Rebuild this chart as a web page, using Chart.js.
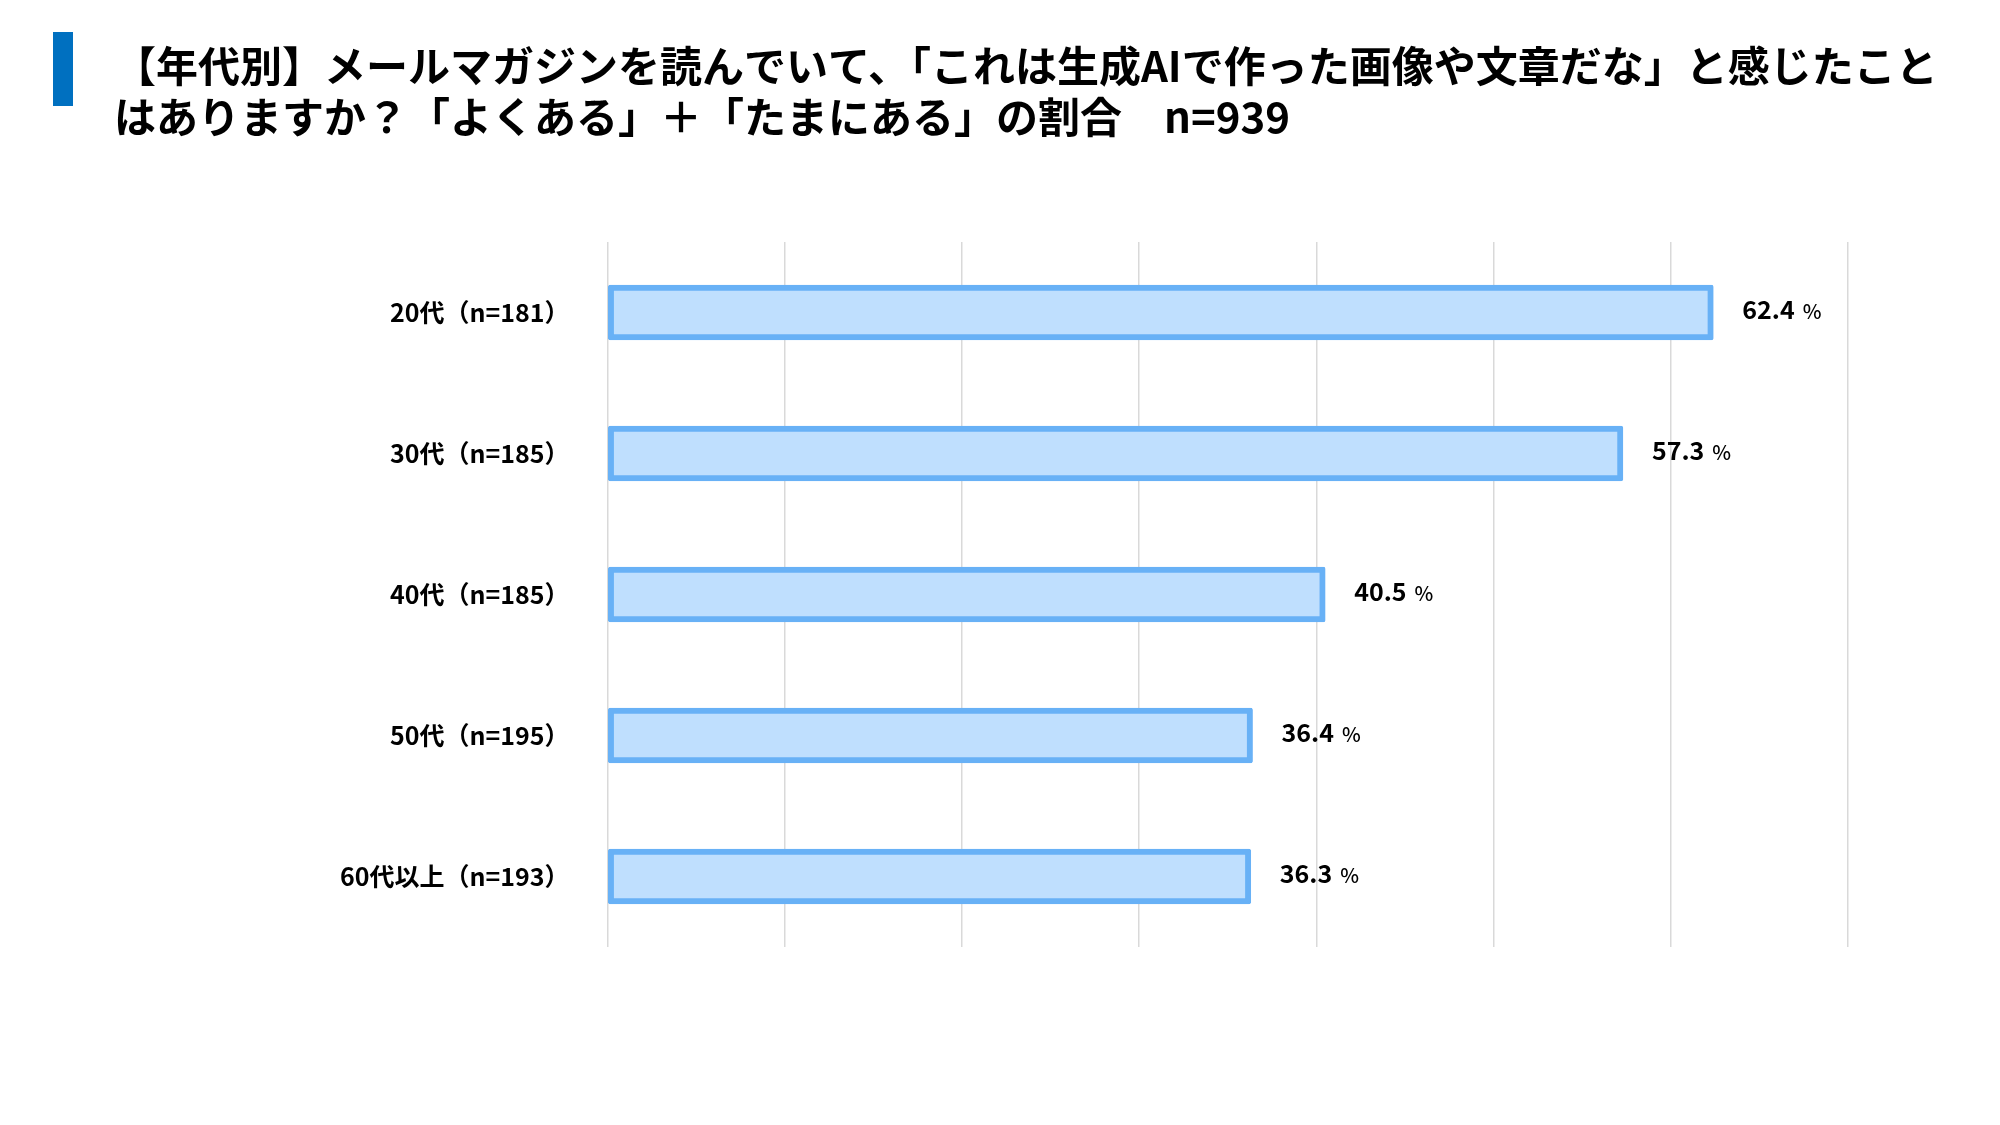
<!DOCTYPE html>
<html>
<head>
<meta charset="utf-8">
<script src="https://cdn.jsdelivr.net/npm/chart.js@4.4.1/dist/chart.umd.min.js"></script>
<style>
html,body{margin:0;padding:0;background:#fff;}
canvas{display:block;}
</style>
</head>
<body>
<canvas id="c" width="2000" height="1125"></canvas>
<script>
const titleLines = [
  "【年代別】メールマガジンを読んでいて、「これは生成AIで作った画像や文章だな」と感じたこと",
  "はありますか？「よくある」＋「たまにある」の割合　n=939"
];
const categories = ["20代（n=181）", "30代（n=185）", "40代（n=185）", "50代（n=195）", "60代以上（n=193）"];
const values = [62.4, 57.3, 40.5, 36.4, 36.3];
const unitLabel = "%";
const xTicks = [0, 10, 20, 30, 40, 50, 60, 70];

const FONT = "'Noto Sans CJK JP', 'Noto Sans', sans-serif";

const titlePlugin = {
  id: 'titleBlock',
  afterDraw(chart) {
    const ctx = chart.ctx;
    ctx.save();
    ctx.fillStyle = '#0070c0';
    ctx.fillRect(53, 32, 20, 74);
    ctx.fillStyle = '#000';
    ctx.font = "bold 42px " + FONT;
    ctx.textBaseline = 'middle';
    ctx.textAlign = 'left';
    ctx.fillText(titleLines[0], 114, 66);
    ctx.fillText(titleLines[1], 114, 117);
    ctx.restore();
  }
};

const valueLabels = {
  id: 'valueLabels',
  afterDatasetsDraw(chart) {
    const ctx = chart.ctx;
    const meta = chart.getDatasetMeta(0);
    ctx.save();
    ctx.fillStyle = '#000';
    ctx.textBaseline = 'middle';
    ctx.textAlign = 'left';
    meta.data.forEach((bar, i) => {
      const v = values[i].toFixed(1);
      const x = bar.x + 29;
      const y = bar.y - 3;
      ctx.font = "bold 25px " + FONT;
      ctx.fillText(v, x, y);
      const w = ctx.measureText(v).width;
      ctx.font = "500 20px " + FONT;
      ctx.fillText(unitLabel, x + w + 8, y + 2);
    });
    ctx.restore();
  }
};

new Chart(document.getElementById('c'), {
  type: 'bar',
  data: {
    labels: categories,
    datasets: [{
      data: values,
      backgroundColor: '#bfdffe',
      borderColor: '#68b1f6',
      borderWidth: 6,
      borderRadius: 2,
      borderSkipped: false,
      barThickness: 55
    }]
  },
  options: {
    indexAxis: 'y',
    responsive: false,
    devicePixelRatio: 1,
    animation: false,
    layout: { padding: { left: 0, right: 152, top: 242, bottom: 178 } },
    plugins: {
      legend: { display: false },
      title: { display: false },
      tooltip: { enabled: false }
    },
    scales: {
      x: {
        min: xTicks[0],
        max: xTicks[xTicks.length - 1],
        afterBuildTicks(scale) { scale.ticks = xTicks.map(v => ({ value: v })); },
        ticks: { display: false },
        grid: { color: '#d9d9d9', lineWidth: 1.5, drawTicks: false },
        border: { display: false },
        afterFit(scale) { scale.height = 0; }
      },
      y: {
        grid: { display: false, drawTicks: false },
        border: { display: false },
        ticks: {
          color: '#000',
          padding: 38,
          font: { family: FONT, size: 25, weight: 'bold' }
        },
        afterFit(scale) { scale.width = 607.5; }
      }
    }
  },
  plugins: [titlePlugin, valueLabels]
});
</script>
</body>
</html>
